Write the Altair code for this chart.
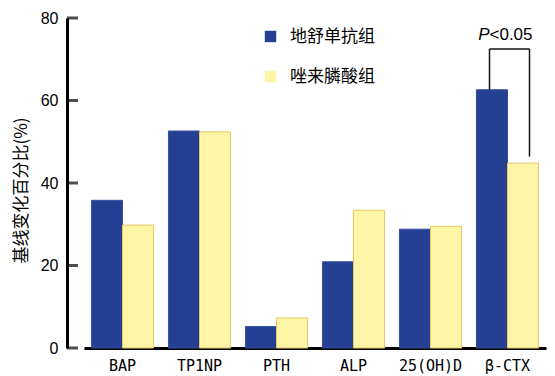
import altair as alt
import pandas as pd

categories = ["BAP", "TP1NP", "PTH", "ALP", "25(OH)D", "β-CTX"]
groups = ["地舒单抗组", "唑来膦酸组"]
denosumab = [35.8, 52.6, 5.2, 20.9, 28.8, 62.6]
zoledronic = [29.8, 52.4, 7.3, 33.4, 29.5, 44.8]
y_ticks = [0, 20, 40, 60, 80]

sig_category = "β-CTX"
bracket_top = 72.5
bracket_left_bottom = 62.6
bracket_right_bottom = 46.4
p_label_y = 75.8

BLUE = "#253f92"
YELLOW = "#fef5a6"
BLUE_EDGE = "#34509f"
YELLOW_EDGE = "#e8c666"

rows = []
for c, a, b in zip(categories, denosumab, zoledronic):
    rows.append({"category": c, "group": groups[0], "value": a})
    rows.append({"category": c, "group": groups[1], "value": b})
df = pd.DataFrame(rows)

x_scale = alt.Scale(domain=categories, range=[17, 479], paddingInner=0, paddingOuter=0)
y_scale = alt.Scale(domain=[0, 80], nice=False)

x_axis = alt.Axis(title=None, labelAngle=0, ticks=False, tickSize=0, domainWidth=3,
                  domainColor="black", labelFont="DejaVu Sans Mono", labelFontSize=15,
                  labelColor="black", labelPadding=10)
y_axis = alt.Axis(values=y_ticks, ticks=False, tickSize=0, grid=False, domainWidth=3,
                  domainColor="black", labelFontSize=16, labelFont="Liberation Sans",
                  labelColor="black", labelPadding=9, title="基线变化百分比(%)",
                  titleFont="Noto Sans CJK SC", titleFontSize=17, titleFontWeight="normal",
                  titleColor="black", titlePadding=10, titleY=172)


def xenc():
    return alt.X("category:N", scale=x_scale, sort=categories, axis=x_axis)


def yenc(field="value"):
    return alt.Y(f"{field}:Q", scale=y_scale, axis=y_axis)


bars = alt.Chart(df).mark_bar(strokeWidth=1).encode(
    x=xenc(),
    xOffset=alt.XOffset("group:N", sort=groups,
                        scale=alt.Scale(domain=groups, paddingInner=0, paddingOuter=0.24)),
    y=yenc(),
    color=alt.Color("group:N", scale=alt.Scale(domain=groups, range=[BLUE, YELLOW]),
                    legend=alt.Legend(title=None, orient="none", legendX=195, legendY=10,
                                      symbolType="square", symbolSize=130, labelFontSize=17,
                                      labelFont="Noto Sans CJK SC", rowPadding=22,
                                      labelOffset=11, padding=0, symbolStrokeWidth=0,
                                      labelColor="black")),
    stroke=alt.Stroke("group:N", scale=alt.Scale(domain=groups, range=[BLUE_EDGE, YELLOW_EDGE]),
                      legend=None),
)

ticks = alt.Chart(pd.DataFrame({"category": [categories[0]] * len(y_ticks), "value": y_ticks})).mark_tick(
    color="black", thickness=3, size=11, orient="horizontal"
).encode(y=yenc(), x=alt.value(5.5))

left_df = pd.DataFrame({"category": [sig_category], "value": [bracket_left_bottom], "value2": [bracket_top]})
right_df = pd.DataFrame({"category": [sig_category], "value": [bracket_right_bottom], "value2": [bracket_top]})
top_df = pd.DataFrame({"category": [sig_category], "value": [bracket_top]})
p_df = pd.DataFrame({"category": [sig_category], "value": [p_label_y]})

left_rule = alt.Chart(left_df).mark_rule(color="#111", strokeWidth=1.5, xOffset=-18).encode(
    x=xenc(), y=yenc(), y2="value2:Q")
right_rule = alt.Chart(right_df).mark_rule(color="#111", strokeWidth=1.5, xOffset=22).encode(
    x=xenc(), y=yenc(), y2="value2:Q")
top_rule = alt.Chart(top_df).mark_rule(color="#111", strokeWidth=1.5, xOffset=-18, x2Offset=22).encode(
    x=xenc(), x2="category:N", y=yenc())

p_italic = alt.Chart(p_df).mark_text(text="P", align="right", dx=-18, fontStyle="italic",
                                     fontSize=17, font="Liberation Sans", color="black").encode(
    x=xenc(), y=yenc())
p_rest = alt.Chart(p_df).mark_text(text="<0.05", align="left", dx=-18,
                                   fontSize=17, font="Liberation Sans", color="black").encode(
    x=xenc(), y=yenc())

chart = alt.layer(bars, ticks, left_rule, right_rule, top_rule, p_italic, p_rest).properties(
    width=488, height=330,
    padding={"left": 67, "top": 18, "right": 0, "bottom": 28},
    autosize=alt.AutoSizeParams(type="none"),
    background="white",
).configure_view(stroke=None)

chart.save("out.html", embed_options={"renderer": "svg", "actions": False})
